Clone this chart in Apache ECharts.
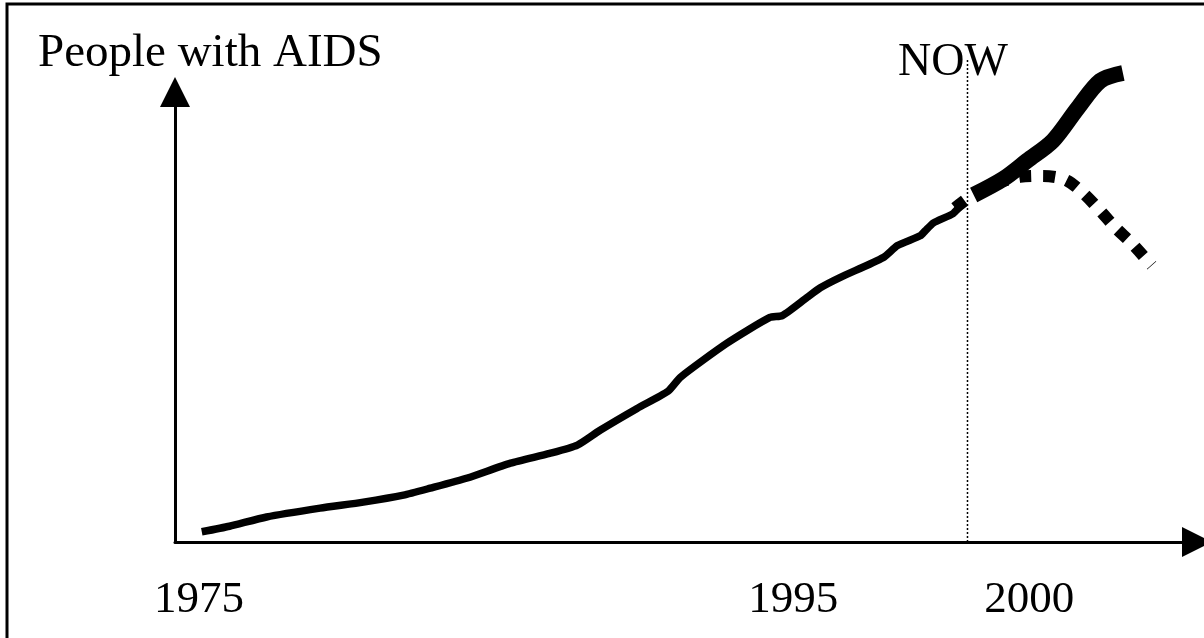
<!DOCTYPE html>
<html>
	<head>
		<meta charset="utf-8">
		<title>People with AIDS</title>
		<script src="https://cdn.jsdelivr.net/npm/echarts@6/dist/echarts.min.js"></script>
		<style>
			html, body { margin: 0; padding: 0; background: #fff; }
			#myChart { width: 1204px; height: 638px; }
		</style>
	</head>
	<body>
		<div id="myChart"></div>
	</body>
	<script type="text/javascript">
	// schematic units along the time axis and up the people axis
	var tickPos = [2.33, 60.06, 83.0];
	var tickText = ['1975', '1995', '2000'];
	var nowX = 77.0;
	var nowTop = 104;

	var pastX = [2.6, 5.3, 8.9, 14.1, 18.3, 22.2, 24.8, 28.4, 32.6, 36.4, 39.1, 41.3, 44.9, 47.9, 49.1, 53.6, 57.8, 59.0, 61.4, 62.7, 64.6, 68.8, 70.2, 72.4, 72.9, 73.7, 75.6, 76.3];
	var pastY = [2.2, 3.4, 5.4, 7.3, 8.6, 10.1, 11.6, 13.8, 17.0, 19.1, 20.9, 24.1, 28.8, 32.5, 35.5, 42.8, 48.4, 48.8, 52.7, 54.8, 57.0, 61.3, 63.9, 66.0, 67.1, 68.8, 70.8, 72.5];

	var riseX = [77.6, 80.5, 82.8, 85.3, 87.7, 89.9, 92.1];
	var riseY = [74.8, 78.3, 82.2, 86.5, 93.5, 99.4, 101.1];

	var fallX = [75.8, 77.7, 80.2, 82.1, 84.3, 86.5, 88.2, 89.9, 91.4, 93.0, 94.9];
	var fallY = [72.0, 75.1, 77.6, 78.7, 78.9, 78.1, 75.3, 71.4, 67.7, 64.3, 59.6];

	function pairs(xs, ys) {
		return xs.map(function (x, i) { return [x, ys[i]]; });
	}

	var serif = "'Liberation Serif', 'Times New Roman', serif";
	var chartDom = document.getElementById('myChart');
	var myChart = echarts.init(chartDom);
	var option = {
		backgroundColor: '#fff',
		animation: false,
		title: [
			{ text: 'People with AIDS', left: 33, top: 25, textStyle: { fontFamily: serif, fontSize: 47, fontWeight: 'normal', color: '#000' } },
			{ text: 'NOW', left: 893, top: 35, textStyle: { fontFamily: serif, fontSize: 46, fontWeight: 'normal', color: '#000' } }
		],
		graphic: [
			{ type: 'polyline', shape: { points: [[7, 700], [7, 4], [1210, 4]] }, style: { fill: 'none', stroke: '#000', lineWidth: 3 }, z: 100 }
		],
		grid: { left: 175, right: 7, top: 92, bottom: 96 },
		xAxis: {
			type: 'value', min: 0, max: 99.3,
			splitLine: { show: false },
			axisTick: { show: false },
			axisLine: { lineStyle: { color: '#000', width: 3 }, symbol: ['none', 'triangle'], symbolSize: [30, 30] },
			axisLabel: {
				customValues: tickPos,
				margin: 36,
				fontFamily: serif, fontSize: 45, color: '#000',
				formatter: function (v) {
					var i = tickPos.indexOf(v);
					return i >= 0 ? tickText[i] : '';
				}
			}
		},
		yAxis: {
			type: 'value', min: 0, max: 97,
			splitLine: { show: false },
			axisTick: { show: false },
			axisLabel: { show: false },
			axisLine: { show: true, lineStyle: { color: '#000', width: 3 }, symbol: ['none', 'triangle'], symbolSize: [30, 30] }
		},
		series: [
			{
				name: 'now', type: 'line', data: [[nowX, 0], [nowX, nowTop]], showSymbol: false, clip: false, silent: true,
				lineStyle: { color: '#000', width: 1.5, type: [2, 2] }
			},
			{
				type: 'line', data: pairs(pastX, pastY), showSymbol: false, smooth: 0.2, clip: false,
				lineStyle: { color: '#000', width: 7.5, cap: 'butt' }
			},
			{
				type: 'line', data: pairs(fallX, fallY), showSymbol: false, smooth: 0.3, clip: false,
				lineStyle: { color: '#000', width: 12, type: [12, 12], cap: 'butt' }
			},
			{
				type: 'line', data: pairs(riseX, riseY), showSymbol: false, smooth: 0.3, clip: false,
				lineStyle: { color: '#000', width: 16, cap: 'butt' }
			}
		]
	};
	myChart.setOption(option);
	</script>
</html>
